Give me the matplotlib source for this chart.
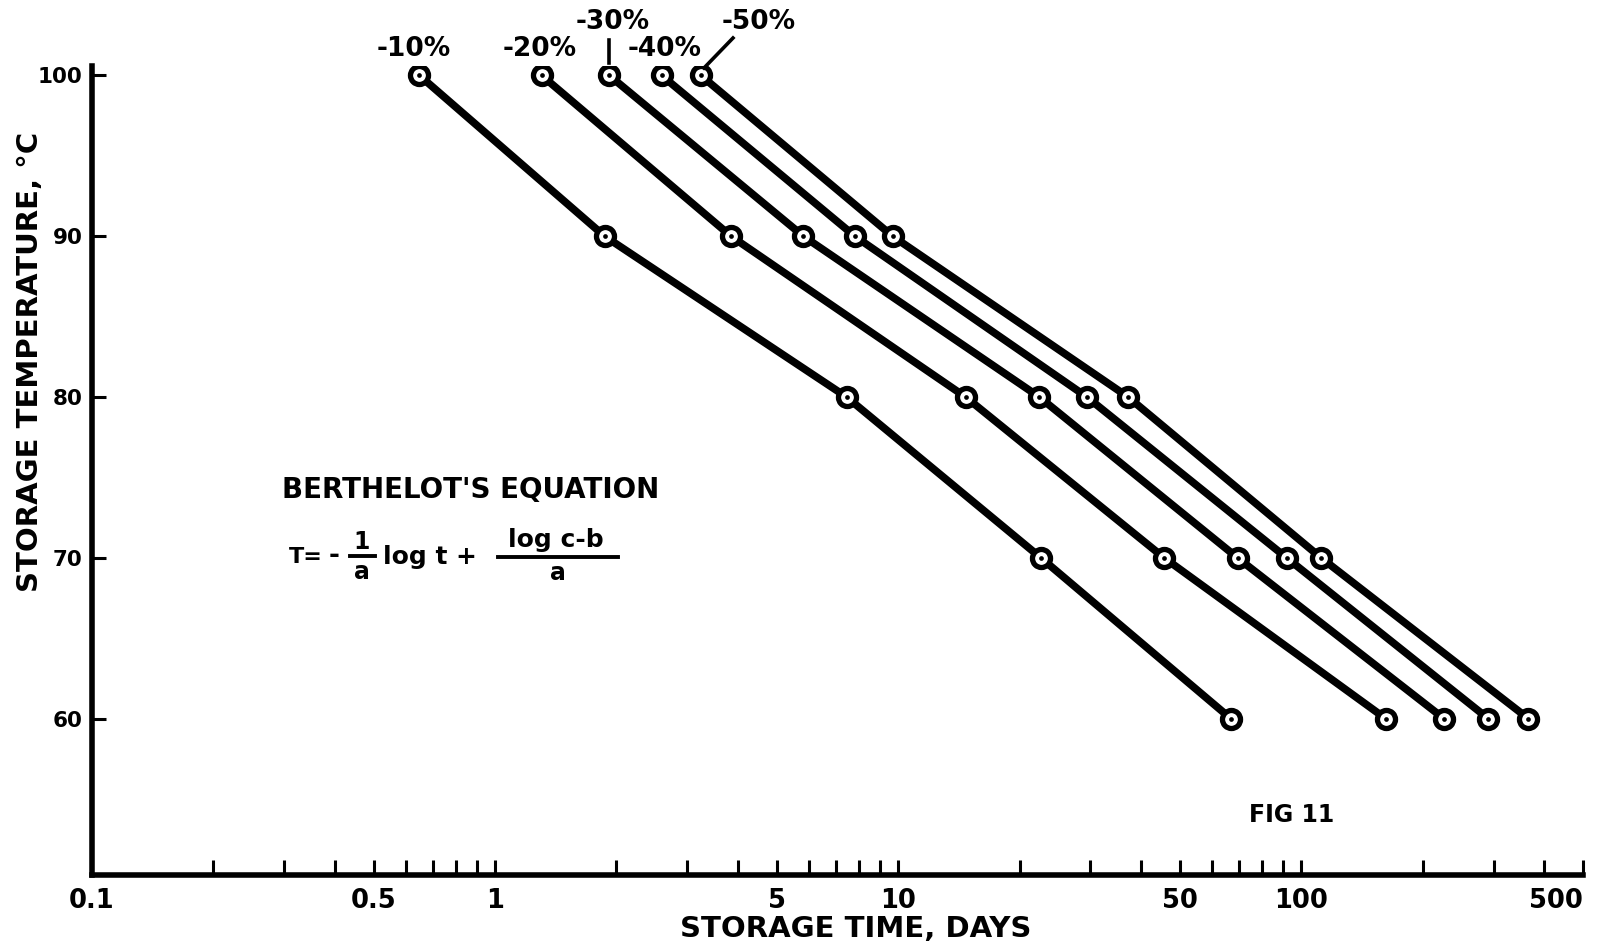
import matplotlib
matplotlib.use("Agg")
import matplotlib.pyplot as plt
from matplotlib.ticker import FixedLocator, FixedFormatter, NullFormatter
from matplotlib.lines import Line2D

# ---- data ----
temperatures = [100, 90, 80, 70, 60]
series_labels = ["-10%", "-20%", "-30%", "-40%", "-50%"]
time_10 = [0.649, 1.87, 7.45, 22.6, 66.9]
time_20 = [1.305, 3.85, 14.7, 45.7, 162]
time_30 = [1.92, 5.82, 22.4, 69.5, 226]
time_40 = [2.59, 7.81, 29.4, 92.0, 291]
time_50 = [3.24, 9.69, 37.2, 112, 366]
all_times = [time_10, time_20, time_30, time_40, time_50]

x_major = [0.1, 0.5, 1, 5, 10, 50, 100, 500]
x_major_labels = ["0.1", "0.5", "1", "5", "10", "50", "100", "500"]
y_ticks = [60, 70, 80, 90, 100]
y_tick_labels = ["60", "70", "80", "90", "100"]

W, H = 1598, 949
fig = plt.figure(figsize=(W / 100, H / 100), dpi=100)
fig.patch.set_facecolor("white")

def fx(px):
    return px / W

def fy(py):
    return 1 - py / H

ax = fig.add_axes([fx(92), fy(874.6), (1583 - 92) / W, (874.6 - 65.8) / H])
ax.set_xscale("log")
ax.set_xlim(0.1, 500)
ax.set_ylim(50.3, 100.6)
ax.set_facecolor("white")

for s in ["top", "right"]:
    ax.spines[s].set_visible(False)
for s in ["left", "bottom"]:
    ax.spines[s].set_linewidth(4)
    ax.spines[s].set_color("black")

minor = []
for dec in [0.1, 1, 10, 100]:
    for m in range(1, 10):
        v = m * dec
        if v <= 500 and v not in x_major:
            minor.append(v)
ax.xaxis.set_major_locator(FixedLocator(x_major))
ax.xaxis.set_major_formatter(FixedFormatter(x_major_labels))
ax.xaxis.set_minor_locator(FixedLocator(minor))
ax.xaxis.set_minor_formatter(NullFormatter())
ax.tick_params(axis="x", which="both", direction="in", length=11, width=2.2,
               pad=10, labelsize=18.5, color="black")
ax.yaxis.set_major_locator(FixedLocator(y_ticks))
ax.yaxis.set_major_formatter(FixedFormatter(y_tick_labels))
ax.yaxis.set_minor_locator(FixedLocator([]))
ax.tick_params(axis="y", which="both", direction="in", length=10, width=2.2,
               pad=7, labelsize=15.5, color="black")
for lab in ax.get_xticklabels() + ax.get_yticklabels():
    lab.set_fontweight("bold")
xlabs = ax.get_xticklabels()
xlabs[-1].set_horizontalalignment("right")

for times in all_times:
    ax.plot(times, temperatures, color="black", lw=5.5, zorder=2,
            solid_capstyle="butt")
    ax.plot(times, temperatures, ls="none", marker="o", ms=13, mew=3.8,
            mec="black", mfc="white", zorder=3)
    ax.plot(times, temperatures, ls="none", marker="o", ms=3.4, mew=0,
            mfc="black", zorder=4)

# series labels (offsets in pixels -> points)
offsets_px = [(-6, 26), (-2, 26), (3, 53), (3, 26), (58, 53)]
for lab, times, (dx, dy) in zip(series_labels, all_times, offsets_px):
    ax.annotate(lab, xy=(times[0], temperatures[0]),
                xytext=(dx * 0.72, dy * 0.72), textcoords="offset points",
                ha="center", va="center", fontsize=19, fontweight="bold",
                annotation_clip=False)

# leader lines
fig.add_artist(Line2D([fx(609), fx(609)], [fy(63), fy(40)], color="black", lw=2.6))
fig.add_artist(Line2D([fx(704), fx(733)], [fy(68), fy(38)], color="black", lw=2.6))

# axis titles
fig.text(fx(856), fy(929), "STORAGE TIME, DAYS", ha="center", va="center",
         fontsize=21, fontweight="bold")
fig.text(fx(30), fy(362), "STORAGE TEMPERATURE, \u00b0C", ha="center", va="center",
         rotation=90, fontsize=21, fontweight="bold")

# equation block
fig.text(fx(282), fy(490), "BERTHELOT'S EQUATION", ha="left", va="center",
         fontsize=20, fontweight="bold")
fig.text(fx(289), fy(557), "T=", ha="left", va="center", fontsize=16, fontweight="bold")
fig.text(fx(334), fy(556), "-", ha="center", va="center", fontsize=19, fontweight="bold")
fig.text(fx(362), fy(542), "1", ha="center", va="center", fontsize=17, fontweight="bold")
fig.add_artist(Line2D([fx(350), fx(375)], [fy(556), fy(556)], color="black", lw=2.8))
fig.text(fx(362), fy(572), "a", ha="center", va="center", fontsize=17, fontweight="bold")
fig.text(fx(383), fy(557), "log t", ha="left", va="center", fontsize=18, fontweight="bold")
fig.text(fx(466), fy(557), "+", ha="center", va="center", fontsize=18, fontweight="bold")
fig.text(fx(556), fy(540), "log c-b", ha="center", va="center", fontsize=18, fontweight="bold")
fig.add_artist(Line2D([fx(498), fx(618)], [fy(557), fy(557)], color="black", lw=2.8))
fig.text(fx(558), fy(573), "a", ha="center", va="center", fontsize=17, fontweight="bold")

fig.text(fx(1292), fy(815), "FIG 11", ha="center", va="center",
         fontsize=17, fontweight="bold")

fig.savefig("out.png", dpi=100, facecolor="white")
